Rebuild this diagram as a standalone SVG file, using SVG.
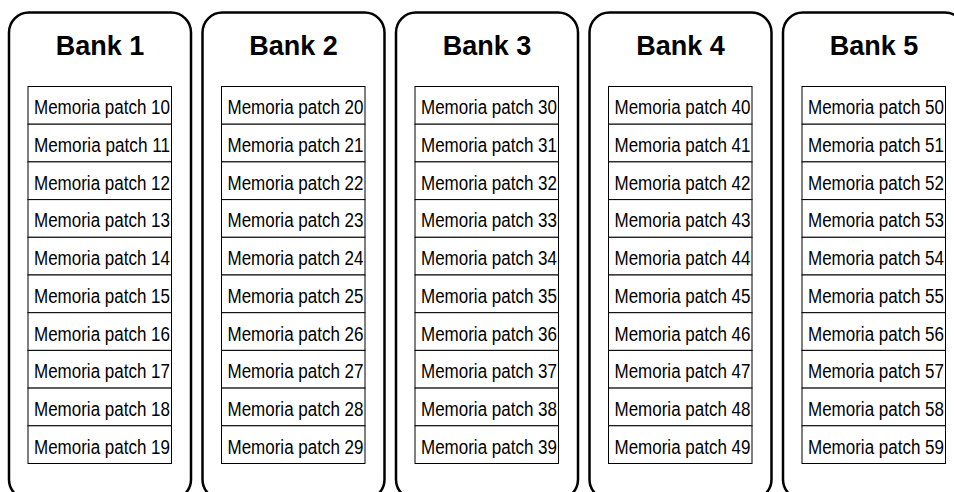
<svg xmlns="http://www.w3.org/2000/svg" width="954" height="492" viewBox="0 0 954 492">
<style>
.bank{fill:#fff;stroke:#000;stroke-width:2.5}
.title{font-family:"Liberation Sans",Arial,sans-serif;font-weight:bold;font-size:27px;text-anchor:middle;fill:#000}
.cell{fill:#fff;stroke:#000;stroke-width:1}
.lbl{font-family:"Liberation Sans",Arial,sans-serif;font-size:20px;fill:#000}
</style>
<rect width="954" height="492" fill="#fff"/>
<g id="bank1" transform="translate(0,0)">
<rect class="bank" x="9" y="12.5" width="182" height="487" rx="20"/>
<text class="title" x="100" y="55">Bank 1</text>
<g id="patches1">
<rect class="cell" x="28" y="86.5" width="143.5" height="37.7"/><text class="lbl" x="34" y="114.3" textLength="136" lengthAdjust="spacingAndGlyphs">Memoria patch 10</text>
<rect class="cell" x="28" y="124.2" width="143.5" height="37.7"/><text class="lbl" x="34" y="152" textLength="136" lengthAdjust="spacingAndGlyphs">Memoria patch 11</text>
<rect class="cell" x="28" y="161.9" width="143.5" height="37.7"/><text class="lbl" x="34" y="189.7" textLength="136" lengthAdjust="spacingAndGlyphs">Memoria patch 12</text>
<rect class="cell" x="28" y="199.6" width="143.5" height="37.7"/><text class="lbl" x="34" y="227.4" textLength="136" lengthAdjust="spacingAndGlyphs">Memoria patch 13</text>
<rect class="cell" x="28" y="237.3" width="143.5" height="37.7"/><text class="lbl" x="34" y="265.1" textLength="136" lengthAdjust="spacingAndGlyphs">Memoria patch 14</text>
<rect class="cell" x="28" y="275" width="143.5" height="37.7"/><text class="lbl" x="34" y="302.8" textLength="136" lengthAdjust="spacingAndGlyphs">Memoria patch 15</text>
<rect class="cell" x="28" y="312.7" width="143.5" height="37.7"/><text class="lbl" x="34" y="340.5" textLength="136" lengthAdjust="spacingAndGlyphs">Memoria patch 16</text>
<rect class="cell" x="28" y="350.4" width="143.5" height="37.7"/><text class="lbl" x="34" y="378.2" textLength="136" lengthAdjust="spacingAndGlyphs">Memoria patch 17</text>
<rect class="cell" x="28" y="388.1" width="143.5" height="37.7"/><text class="lbl" x="34" y="415.9" textLength="136" lengthAdjust="spacingAndGlyphs">Memoria patch 18</text>
<rect class="cell" x="28" y="425.8" width="143.5" height="37.7"/><text class="lbl" x="34" y="453.6" textLength="136" lengthAdjust="spacingAndGlyphs">Memoria patch 19</text>
</g>
</g>
<g id="bank2" transform="translate(193.5,0)">
<rect class="bank" x="9" y="12.5" width="182" height="487" rx="20"/>
<text class="title" x="100" y="55">Bank 2</text>
<g id="patches2">
<rect class="cell" x="28" y="86.5" width="143.5" height="37.7"/><text class="lbl" x="34" y="114.3" textLength="136" lengthAdjust="spacingAndGlyphs">Memoria patch 20</text>
<rect class="cell" x="28" y="124.2" width="143.5" height="37.7"/><text class="lbl" x="34" y="152" textLength="136" lengthAdjust="spacingAndGlyphs">Memoria patch 21</text>
<rect class="cell" x="28" y="161.9" width="143.5" height="37.7"/><text class="lbl" x="34" y="189.7" textLength="136" lengthAdjust="spacingAndGlyphs">Memoria patch 22</text>
<rect class="cell" x="28" y="199.6" width="143.5" height="37.7"/><text class="lbl" x="34" y="227.4" textLength="136" lengthAdjust="spacingAndGlyphs">Memoria patch 23</text>
<rect class="cell" x="28" y="237.3" width="143.5" height="37.7"/><text class="lbl" x="34" y="265.1" textLength="136" lengthAdjust="spacingAndGlyphs">Memoria patch 24</text>
<rect class="cell" x="28" y="275" width="143.5" height="37.7"/><text class="lbl" x="34" y="302.8" textLength="136" lengthAdjust="spacingAndGlyphs">Memoria patch 25</text>
<rect class="cell" x="28" y="312.7" width="143.5" height="37.7"/><text class="lbl" x="34" y="340.5" textLength="136" lengthAdjust="spacingAndGlyphs">Memoria patch 26</text>
<rect class="cell" x="28" y="350.4" width="143.5" height="37.7"/><text class="lbl" x="34" y="378.2" textLength="136" lengthAdjust="spacingAndGlyphs">Memoria patch 27</text>
<rect class="cell" x="28" y="388.1" width="143.5" height="37.7"/><text class="lbl" x="34" y="415.9" textLength="136" lengthAdjust="spacingAndGlyphs">Memoria patch 28</text>
<rect class="cell" x="28" y="425.8" width="143.5" height="37.7"/><text class="lbl" x="34" y="453.6" textLength="136" lengthAdjust="spacingAndGlyphs">Memoria patch 29</text>
</g>
</g>
<g id="bank3" transform="translate(387,0)">
<rect class="bank" x="9" y="12.5" width="182" height="487" rx="20"/>
<text class="title" x="100" y="55">Bank 3</text>
<g id="patches3">
<rect class="cell" x="28" y="86.5" width="143.5" height="37.7"/><text class="lbl" x="34" y="114.3" textLength="136" lengthAdjust="spacingAndGlyphs">Memoria patch 30</text>
<rect class="cell" x="28" y="124.2" width="143.5" height="37.7"/><text class="lbl" x="34" y="152" textLength="136" lengthAdjust="spacingAndGlyphs">Memoria patch 31</text>
<rect class="cell" x="28" y="161.9" width="143.5" height="37.7"/><text class="lbl" x="34" y="189.7" textLength="136" lengthAdjust="spacingAndGlyphs">Memoria patch 32</text>
<rect class="cell" x="28" y="199.6" width="143.5" height="37.7"/><text class="lbl" x="34" y="227.4" textLength="136" lengthAdjust="spacingAndGlyphs">Memoria patch 33</text>
<rect class="cell" x="28" y="237.3" width="143.5" height="37.7"/><text class="lbl" x="34" y="265.1" textLength="136" lengthAdjust="spacingAndGlyphs">Memoria patch 34</text>
<rect class="cell" x="28" y="275" width="143.5" height="37.7"/><text class="lbl" x="34" y="302.8" textLength="136" lengthAdjust="spacingAndGlyphs">Memoria patch 35</text>
<rect class="cell" x="28" y="312.7" width="143.5" height="37.7"/><text class="lbl" x="34" y="340.5" textLength="136" lengthAdjust="spacingAndGlyphs">Memoria patch 36</text>
<rect class="cell" x="28" y="350.4" width="143.5" height="37.7"/><text class="lbl" x="34" y="378.2" textLength="136" lengthAdjust="spacingAndGlyphs">Memoria patch 37</text>
<rect class="cell" x="28" y="388.1" width="143.5" height="37.7"/><text class="lbl" x="34" y="415.9" textLength="136" lengthAdjust="spacingAndGlyphs">Memoria patch 38</text>
<rect class="cell" x="28" y="425.8" width="143.5" height="37.7"/><text class="lbl" x="34" y="453.6" textLength="136" lengthAdjust="spacingAndGlyphs">Memoria patch 39</text>
</g>
</g>
<g id="bank4" transform="translate(580.5,0)">
<rect class="bank" x="9" y="12.5" width="182" height="487" rx="20"/>
<text class="title" x="100" y="55">Bank 4</text>
<g id="patches4">
<rect class="cell" x="28" y="86.5" width="143.5" height="37.7"/><text class="lbl" x="34" y="114.3" textLength="136" lengthAdjust="spacingAndGlyphs">Memoria patch 40</text>
<rect class="cell" x="28" y="124.2" width="143.5" height="37.7"/><text class="lbl" x="34" y="152" textLength="136" lengthAdjust="spacingAndGlyphs">Memoria patch 41</text>
<rect class="cell" x="28" y="161.9" width="143.5" height="37.7"/><text class="lbl" x="34" y="189.7" textLength="136" lengthAdjust="spacingAndGlyphs">Memoria patch 42</text>
<rect class="cell" x="28" y="199.6" width="143.5" height="37.7"/><text class="lbl" x="34" y="227.4" textLength="136" lengthAdjust="spacingAndGlyphs">Memoria patch 43</text>
<rect class="cell" x="28" y="237.3" width="143.5" height="37.7"/><text class="lbl" x="34" y="265.1" textLength="136" lengthAdjust="spacingAndGlyphs">Memoria patch 44</text>
<rect class="cell" x="28" y="275" width="143.5" height="37.7"/><text class="lbl" x="34" y="302.8" textLength="136" lengthAdjust="spacingAndGlyphs">Memoria patch 45</text>
<rect class="cell" x="28" y="312.7" width="143.5" height="37.7"/><text class="lbl" x="34" y="340.5" textLength="136" lengthAdjust="spacingAndGlyphs">Memoria patch 46</text>
<rect class="cell" x="28" y="350.4" width="143.5" height="37.7"/><text class="lbl" x="34" y="378.2" textLength="136" lengthAdjust="spacingAndGlyphs">Memoria patch 47</text>
<rect class="cell" x="28" y="388.1" width="143.5" height="37.7"/><text class="lbl" x="34" y="415.9" textLength="136" lengthAdjust="spacingAndGlyphs">Memoria patch 48</text>
<rect class="cell" x="28" y="425.8" width="143.5" height="37.7"/><text class="lbl" x="34" y="453.6" textLength="136" lengthAdjust="spacingAndGlyphs">Memoria patch 49</text>
</g>
</g>
<g id="bank5" transform="translate(774,0)">
<rect class="bank" x="9" y="12.5" width="182" height="487" rx="20"/>
<text class="title" x="100" y="55">Bank 5</text>
<g id="patches5">
<rect class="cell" x="28" y="86.5" width="143.5" height="37.7"/><text class="lbl" x="34" y="114.3" textLength="136" lengthAdjust="spacingAndGlyphs">Memoria patch 50</text>
<rect class="cell" x="28" y="124.2" width="143.5" height="37.7"/><text class="lbl" x="34" y="152" textLength="136" lengthAdjust="spacingAndGlyphs">Memoria patch 51</text>
<rect class="cell" x="28" y="161.9" width="143.5" height="37.7"/><text class="lbl" x="34" y="189.7" textLength="136" lengthAdjust="spacingAndGlyphs">Memoria patch 52</text>
<rect class="cell" x="28" y="199.6" width="143.5" height="37.7"/><text class="lbl" x="34" y="227.4" textLength="136" lengthAdjust="spacingAndGlyphs">Memoria patch 53</text>
<rect class="cell" x="28" y="237.3" width="143.5" height="37.7"/><text class="lbl" x="34" y="265.1" textLength="136" lengthAdjust="spacingAndGlyphs">Memoria patch 54</text>
<rect class="cell" x="28" y="275" width="143.5" height="37.7"/><text class="lbl" x="34" y="302.8" textLength="136" lengthAdjust="spacingAndGlyphs">Memoria patch 55</text>
<rect class="cell" x="28" y="312.7" width="143.5" height="37.7"/><text class="lbl" x="34" y="340.5" textLength="136" lengthAdjust="spacingAndGlyphs">Memoria patch 56</text>
<rect class="cell" x="28" y="350.4" width="143.5" height="37.7"/><text class="lbl" x="34" y="378.2" textLength="136" lengthAdjust="spacingAndGlyphs">Memoria patch 57</text>
<rect class="cell" x="28" y="388.1" width="143.5" height="37.7"/><text class="lbl" x="34" y="415.9" textLength="136" lengthAdjust="spacingAndGlyphs">Memoria patch 58</text>
<rect class="cell" x="28" y="425.8" width="143.5" height="37.7"/><text class="lbl" x="34" y="453.6" textLength="136" lengthAdjust="spacingAndGlyphs">Memoria patch 59</text>
</g>
</g>
<g id="connectors"/>
</svg>
